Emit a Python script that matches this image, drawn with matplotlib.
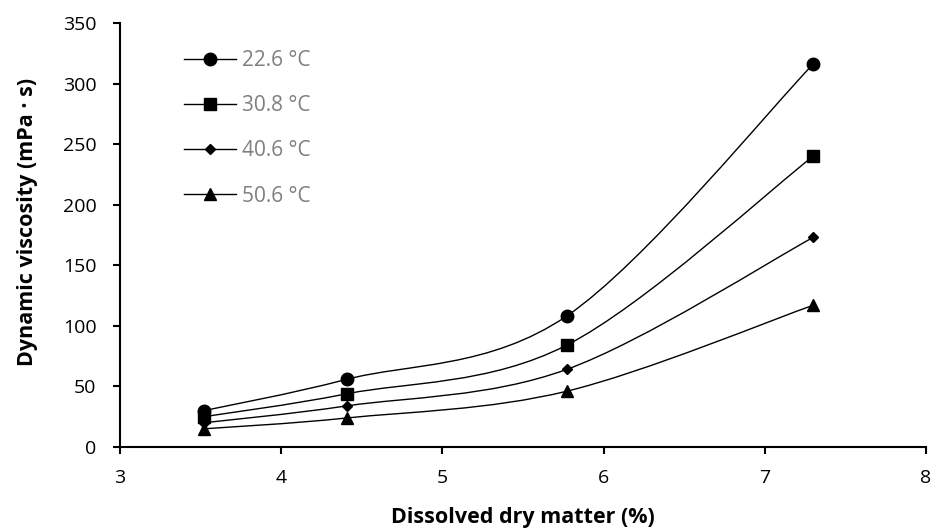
import matplotlib.pyplot as plt
from matplotlib.path import Path
from matplotlib.patches import PathPatch
from matplotlib.lines import Line2D

plt.rcParams['font.family'] = ['Open Sans', 'DejaVu Sans']

dry_matter = [3.52, 4.41, 5.77, 7.30]
temps = ['22.6 °C', '30.8 °C', '40.6 °C', '50.6 °C']
visc_226 = [30, 56, 108, 316]
visc_308 = [25, 44, 84, 240]
visc_406 = [20, 34, 64, 173]
visc_506 = [15, 24, 46, 117]
series = [visc_226, visc_308, visc_406, visc_506]
markers = ['o', 's', 'D', '^']
msizes = [9, 9, 5.6, 9]


def smooth_path(xs, ys):
    # Excel-like smoothed line: Catmull-Rom converted to cubic Bezier
    pts = list(zip(xs, ys))
    verts = [pts[0]]
    codes = [Path.MOVETO]
    n = len(pts)
    for i in range(n - 1):
        p0 = pts[i - 1] if i > 0 else pts[i]
        p1 = pts[i]
        p2 = pts[i + 1]
        p3 = pts[i + 2] if i + 2 < n else pts[i + 1]
        c1 = (p1[0] + (p2[0] - p0[0]) / 6, p1[1] + (p2[1] - p0[1]) / 6)
        c2 = (p2[0] - (p3[0] - p1[0]) / 6, p2[1] - (p3[1] - p1[1]) / 6)
        verts += [c1, c2, p2]
        codes += [Path.CURVE4] * 3
    return Path(verts, codes)


fig = plt.figure(figsize=(9.34, 5.31), dpi=100)
ax = fig.add_axes([120 / 934, 84 / 531, 806 / 934, 424 / 531])

handles = []
for ys, m, ms, lab in zip(series, markers, msizes, temps):
    ax.add_patch(PathPatch(smooth_path(dry_matter, ys), facecolor='none',
                           edgecolor='black', lw=1.0))
    ax.plot(dry_matter, ys, linestyle='none', marker=m, ms=ms, color='black')
    handles.append(Line2D([], [], color='black', lw=1.0, marker=m, ms=ms, label=lab))

ax.set_xlim(3, 8)
ax.set_ylim(0, 350)
ax.set_xticks(range(3, 9))
ax.set_yticks(range(0, 351, 50))
ax.spines['top'].set_visible(False)
ax.spines['right'].set_visible(False)
ax.spines['left'].set_linewidth(1.5)
ax.spines['bottom'].set_linewidth(1.5)
ax.tick_params(direction='out', length=5, width=1.5, labelsize=14)
ax.tick_params(axis='x', pad=11)
ax.tick_params(axis='y', pad=12)
ax.set_xlabel('Dissolved dry matter (%)', fontsize=15.5, fontweight='bold', va='baseline')
ax.set_ylabel('Dynamic viscosity (mPa · s)', fontsize=15.5, fontweight='bold', va='center')
ax.xaxis.set_label_coords(0.5, -0.18)
ax.yaxis.set_label_coords(-0.115, 0.531)

ax.legend(handles=handles, loc='upper left', bbox_to_anchor=(0.08, 0.936),
          frameon=False, fontsize=15, handlelength=2.45, labelspacing=1.16,
          handletextpad=0.3, borderpad=0, borderaxespad=0, labelcolor='#7f7f7f')

fig.savefig('out.png', dpi=100)
